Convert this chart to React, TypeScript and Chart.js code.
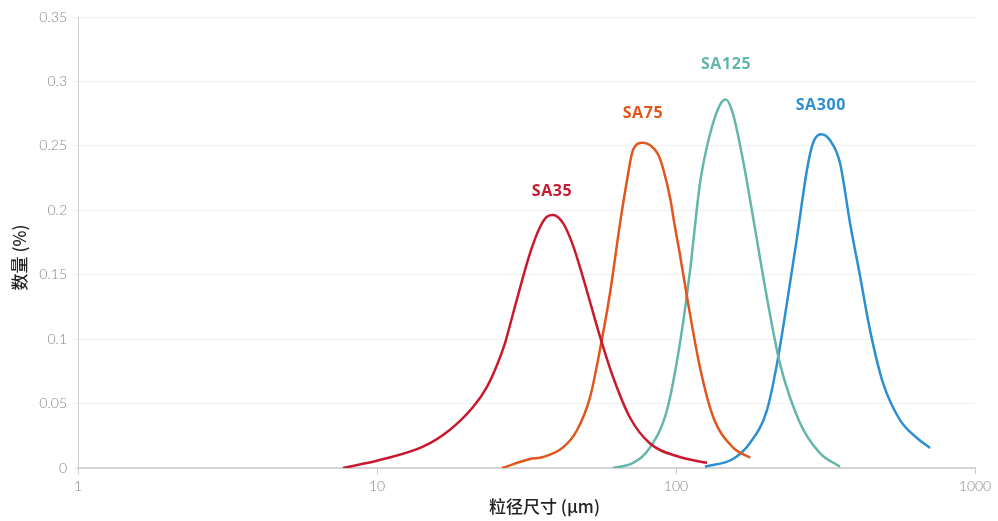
import React, { useEffect, useRef } from "react";
import { Chart, registerables } from "chart.js";

Chart.register(...registerables);

const SA35_X = [7.7, 10.2, 14.25, 17.5, 20.95, 23.3, 25.2, 26.8, 28.3, 30.1, 32.5, 35.1, 37.0, 38.8, 41.9, 45.2, 48.5, 52, 55.7, 61.5, 70.2, 81.9, 103, 127];
const SA35_Y = [0, 0.0062, 0.0165, 0.0295, 0.0473, 0.0628, 0.08, 0.097, 0.117, 0.14, 0.1668, 0.187, 0.195, 0.1963, 0.19, 0.173, 0.1505, 0.126, 0.102, 0.071, 0.039, 0.019, 0.0085, 0.004];

const SA75_X = [26.2, 32.5, 35.9, 41.9, 46.7, 51.6, 55.7, 60.1, 65.0, 68.6, 71.8, 77.5, 82, 87.1, 90.5, 95.5, 99.2, 102.5, 108.8, 120.3, 133, 155, 177];
const SA75_Y = [0, 0.007, 0.0085, 0.016, 0.0295, 0.055, 0.092, 0.135, 0.19, 0.2235, 0.2467, 0.2525, 0.2505, 0.2435, 0.2325, 0.21, 0.187, 0.169, 0.133, 0.078, 0.04, 0.016, 0.008];

const SA125_X = [61.5, 71.8, 81.9, 93.3, 103.1, 111.4, 120.3, 129.9, 140.4, 146.9, 155, 167.5, 180.9, 201.5, 222.7, 259.8, 303, 353.6];
const SA125_Y = [0, 0.004, 0.016, 0.045, 0.097, 0.153, 0.221, 0.259, 0.282, 0.286, 0.275, 0.239, 0.195, 0.132, 0.081, 0.035, 0.0116, 0.001];

const SA300_X = [125, 155, 176.8, 201.5, 217.7, 235, 254, 274, 287, 305.5, 327, 353.6, 382, 412.6, 445.5, 492.4, 561.4, 639.7, 707.3];
const SA300_Y = [0.001, 0.007, 0.0194, 0.045, 0.081, 0.128, 0.179, 0.231, 0.252, 0.259, 0.2545, 0.2367, 0.19, 0.149, 0.107, 0.066, 0.0372, 0.0233, 0.0155];

const SERIES_NAMES = ["SA35", "SA75", "SA125", "SA300"];
const SERIES_COLORS = ["#c8192f", "#e0561d", "#63b6a9", "#2b8fd1"];
const LABEL_X = [38.5, 77.5, 147, 305];
const LABEL_Y = [0.215, 0.2755, 0.3135, 0.2817];

const X_TICKS = [1, 10, 100, 1000];
const Y_MAX = 0.35;
const Y_STEP = 0.05;

const X_TITLE = "粒径尺寸 (μm)";
const Y_TITLE = "数量 (%)";

function pts(xs: number[], ys: number[]) {
  return xs.map((x, i) => ({ x, y: ys[i] }));
}

const labelPlugin = {
  id: "peakLabels",
  afterDatasetsDraw(chart: any) {
    const { ctx, scales, chartArea } = chart;
    ctx.save();
    ctx.font = "bold 16px 'Open Sans', sans-serif";
    (ctx as any).letterSpacing = "0.6px";
    ctx.textAlign = "center";
    ctx.textBaseline = "middle";
    SERIES_NAMES.forEach((name, i) => {
      ctx.fillStyle = SERIES_COLORS[i];
      ctx.fillText(name, scales.x.getPixelForValue(LABEL_X[i]), scales.y.getPixelForValue(LABEL_Y[i]));
    });
    (ctx as any).letterSpacing = "0px";
    // axis titles
    ctx.fillStyle = "#222";
    ctx.font = "500 17px 'Noto Sans CJK SC', sans-serif";
    const cx = (chartArea.left + chartArea.right) / 2 + 18;
    ctx.fillText(X_TITLE, cx, chartArea.bottom + 39);
    const cy = (chartArea.top + chartArea.bottom) / 2 + 15;
    ctx.translate(20, cy);
    ctx.rotate(-Math.PI / 2);
    ctx.fillText(Y_TITLE, 0, 0);
    ctx.restore();
  },
};

export default function App() {
  const ref = useRef<HTMLCanvasElement>(null);
  useEffect(() => {
    if (!ref.current) return;
    const allX = [SA35_X, SA75_X, SA125_X, SA300_X];
    const allY = [SA35_Y, SA75_Y, SA125_Y, SA300_Y];
    const chart = new Chart(ref.current, {
      type: "line",
      data: {
        datasets: SERIES_NAMES.map((name, i) => ({
          label: name,
          data: pts(allX[i], allY[i]),
          borderColor: SERIES_COLORS[i],
          backgroundColor: SERIES_COLORS[i],
          borderWidth: 2.5,
          pointRadius: 0,
          tension: 0.4,
          cubicInterpolationMode: "monotone" as const,
          fill: false,
        })),
      },
      options: {
        animation: false,
        responsive: false,
        maintainAspectRatio: false,
        layout: { padding: { top: 17, right: 23, left: 0, bottom: 0 } },
        plugins: { legend: { display: false }, tooltip: { enabled: false } },
        scales: {
          x: {
            type: "logarithmic",
            min: 1,
            max: 1000,
            afterBuildTicks: (axis: any) => {
              axis.ticks = X_TICKS.map((v) => ({ value: v }));
            },
            afterFit: (axis: any) => {
              axis.height = 53;
            },
            ticks: {
              color: "#858585",
              font: { family: "Lato, sans-serif", size: 14, weight: 300 as any },
              padding: 4,
              autoSkip: false,
              maxRotation: 0,
              callback: (v: any) => String(v),
            },
            grid: { drawOnChartArea: false, drawTicks: true, tickLength: 6, color: "#c8c8c8" },
            border: { color: "#d4d4d4", width: 2 },
            title: { display: false },
          },
          y: {
            type: "linear",
            min: 0,
            max: Y_MAX,
            afterFit: (axis: any) => {
              axis.width = 78;
            },
            ticks: {
              stepSize: Y_STEP,
              color: "#858585",
              font: { family: "Lato, sans-serif", size: 14, weight: 300 as any },
              padding: 6,
              callback: (v: any) => String(+Number(v).toFixed(2)),
            },
            grid: { color: "#efefef", tickLength: 5, lineWidth: 1 },
            border: { color: "#cfcfcf", width: 1 },
            title: { display: false },
          },
        },
      },
      plugins: [labelPlugin],
    });
    return () => chart.destroy();
  }, []);
  return (
    <div style={{ position: "absolute", left: 0, top: 0, width: 998, height: 521, background: "#fff" }}>
      <canvas ref={ref} width={998} height={521} style={{ width: 998, height: 521 }} />
    </div>
  );
}
